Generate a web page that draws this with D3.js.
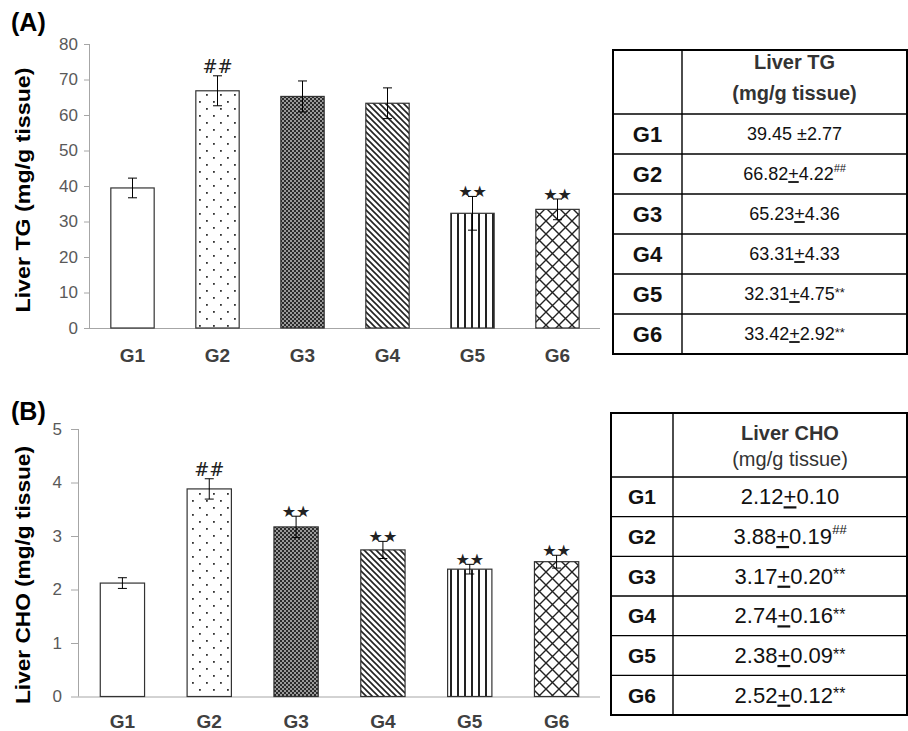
<!DOCTYPE html>
<html><head><meta charset="utf-8">
<script src="https://cdn.jsdelivr.net/npm/d3@7"></script>
<style>body{margin:0;background:#fff}svg{display:block}</style>
</head><body>
<svg id="chart" width="908" height="731"></svg>
<script>
const groups = ["G1","G2","G3","G4","G5","G6"];
const tgMean = [39.45, 66.82, 65.23, 63.31, 32.31, 33.42];
const tgSE   = [2.77, 4.22, 4.36, 4.33, 4.75, 2.92];
const tgMark = ["", "##", "", "", "**", "**"];
const tgTicks = [0,10,20,30,40,50,60,70,80];
const choMean = [2.12, 3.88, 3.17, 2.74, 2.38, 2.52];
const choSE   = [0.10, 0.19, 0.20, 0.16, 0.09, 0.12];
const choMark = ["", "##", "**", "**", "**", "**"];
const choTicks = [0,1,2,3,4,5];
const tgSign = ["±","u","u","u","u","u"];   // "u" = underlined plus
const choSign = ["u","u","u","u","u","u"];
const patterns = ["none","dots","checker","diag","vert","cross"];

const svg = d3.select("#chart");
const defs = svg.append("defs");
// dots
let p = defs.append("pattern").attr("id","dots").attr("patternUnits","userSpaceOnUse").attr("width",14).attr("height",14);
p.append("rect").attr("width",14).attr("height",14).attr("fill","#fff");
p.append("rect").attr("x",3).attr("y",3).attr("width",1.8).attr("height",1.8).attr("fill","#333");
p.append("rect").attr("x",10).attr("y",10).attr("width",1.8).attr("height",1.8).attr("fill","#333");
// checker
p = defs.append("pattern").attr("id","checker").attr("patternUnits","userSpaceOnUse").attr("width",4).attr("height",4);
p.append("rect").attr("width",4).attr("height",4).attr("fill","#9a9a9a");
p.append("rect").attr("width",2).attr("height",2).attr("fill","#2a2a2a");
p.append("rect").attr("x",2).attr("y",2).attr("width",2).attr("height",2).attr("fill","#2a2a2a");
// diagonal "\"
p = defs.append("pattern").attr("id","diag").attr("patternUnits","userSpaceOnUse").attr("width",6).attr("height",6);
p.append("rect").attr("width",6).attr("height",6).attr("fill","#fff");
p.append("path").attr("d","M-1,-1 L7,7 M-4,2 L2,8 M4,-2 L8,2").attr("stroke","#222").attr("stroke-width",1.6);
// vertical
p = defs.append("pattern").attr("id","vert").attr("patternUnits","userSpaceOnUse").attr("width",7).attr("height",7);
p.append("rect").attr("width",7).attr("height",7).attr("fill","#fff");
p.append("rect").attr("x",2).attr("width",2).attr("height",7).attr("fill","#222");
// cross hatch
p = defs.append("pattern").attr("id","cross").attr("patternUnits","userSpaceOnUse").attr("width",13).attr("height",13);
p.append("rect").attr("width",13).attr("height",13).attr("fill","#fff");
p.append("path").attr("d","M0,0 L13,13 M13,0 L0,13").attr("stroke","#222").attr("stroke-width",1.4);

function fillFor(i){ return patterns[i]==="none" ? "#fff" : `url(#${patterns[i]})`; }

function drawChart(cfg){
  const {means, ses, marks, ticks, x0, x1, y0, y1, ymax, title, label, titleY, xLabY, ylabCenter, ylabLen, tickSize, tickPad} = cfg;
  const x = d3.scaleBand().domain(groups).range([x0, x1]).paddingInner(0.49).paddingOuter(0.245);
  const y = d3.scaleLinear().domain([0, ymax]).range([y0, y1]);
  const g = svg.append("g");
  // y axis
  const ya = g.append("g").attr("transform",`translate(${x0},0)`)
    .call(d3.axisLeft(y).tickValues(ticks).tickSize(tickSize).tickPadding(tickPad).tickFormat(d3.format("d")));
  ya.select(".domain").attr("stroke","#a6a6a6").attr("d",`M-0.5,${y1}V${y0}`);
  ya.selectAll(".tick line").attr("stroke","#a6a6a6");
  ya.selectAll(".tick text").attr("fill","#595959").style("font","17px 'Liberation Sans', Arial, sans-serif");
  // x axis line
  g.append("line").attr("x1",x0).attr("x2",x1).attr("y1",y0+0.5).attr("y2",y0+0.5).attr("stroke","#a6a6a6");
  // bars
  g.selectAll("rect.bar").data(groups).join("rect").attr("class","bar")
    .attr("x",d=>x(d)).attr("width",x.bandwidth())
    .attr("y",(d,i)=>y(means[i])).attr("height",(d,i)=>y0-y(means[i]))
    .attr("fill",(d,i)=>fillFor(i)).attr("stroke","#333").attr("stroke-width",1.2);
  // error bars
  const eb = g.selectAll("g.eb").data(groups).join("g").attr("class","eb");
  eb.append("line").attr("x1",d=>x(d)+x.bandwidth()/2).attr("x2",d=>x(d)+x.bandwidth()/2)
    .attr("y1",(d,i)=>y(means[i]-ses[i])).attr("y2",(d,i)=>y(means[i]+ses[i])).attr("stroke","#000");
  [-1,1].forEach(s=>{
    eb.append("line").attr("x1",d=>x(d)+x.bandwidth()/2-4.5).attr("x2",d=>x(d)+x.bandwidth()/2+4.5)
      .attr("y1",(d,i)=>y(means[i]+s*ses[i])).attr("y2",(d,i)=>y(means[i]+s*ses[i])).attr("stroke","#000");
  });
  // marks
  groups.forEach((d,i)=>{
    if(!marks[i]) return;
    const top = y(means[i]+ses[i]);
    if(marks[i]==="##"){
      g.append("text").attr("x",x(d)+x.bandwidth()/2).attr("y",top-3).attr("text-anchor","middle")
        .style("font","18px 'DejaVu Serif', serif").attr("fill","#222").text("##");
    } else {
      g.append("text").attr("x",x(d)+x.bandwidth()/2).attr("y",top+1).attr("text-anchor","middle")
        .style("font","16px 'DejaVu Sans', sans-serif").attr("fill","#222").text("★★");
    }
  });
  // x labels
  g.selectAll("text.xl").data(groups).join("text").attr("class","xl")
    .attr("x",d=>x(d)+x.bandwidth()/2).attr("y",xLabY).attr("text-anchor","middle")
    .style("font","bold 19px 'Liberation Sans', Arial, sans-serif").attr("fill","#404040").text(d=>d);
  // y label
  g.append("text").attr("transform",`translate(30,${ylabCenter}) rotate(-90)`).attr("text-anchor","middle")
    .attr("textLength",ylabLen).attr("lengthAdjust","spacingAndGlyphs")
    .style("font","bold 20px 'Liberation Sans', Arial, sans-serif").attr("fill","#000").text(label);
  // panel title
  g.append("text").attr("x",11).attr("y",titleY)
    .style("font","bold 25px 'Liberation Sans', Arial, sans-serif").attr("fill","#000").text(title);
}

drawChart({means:tgMean, ses:tgSE, marks:tgMark, ticks:tgTicks, x0:90, x1:600, y0:328, y1:44, ymax:80,
  title:"(A)", label:"Liver TG (mg/g tissue)", titleY:31, xLabY:362, ylabCenter:190, ylabLen:245, tickSize:6, tickPad:6});
drawChart({means:choMean, ses:choSE, marks:choMark, ticks:choTicks, x0:79, x1:600, y0:696.5, y1:429, ymax:5,
  title:"(B)", label:"Liver CHO (mg/g tissue)", titleY:420, xLabY:728, ylabCenter:575, ylabLen:258, tickSize:8, tickPad:9});

function drawTable(cfg){
  const {means, ses, marks, signs, left, right, top, headBottom, bottom, divider, head1, head2, head2Bold, valFont, labFont, headY1, headY2} = cfg;
  const g = svg.append("g");
  const rowH = (bottom - headBottom) / groups.length;
  const rows = d3.range(groups.length+1).map(i=>headBottom + i*rowH);
  rows.slice(0,-1).forEach(yy=>g.append("line").attr("x1",left).attr("x2",right).attr("y1",yy).attr("y2",yy).attr("stroke","#000").attr("stroke-width",1.4));
  g.append("line").attr("x1",divider).attr("x2",divider).attr("y1",top).attr("y2",bottom).attr("stroke","#000").attr("stroke-width",1.4);
  g.append("rect").attr("x",left).attr("y",top).attr("width",right-left).attr("height",bottom-top)
    .attr("fill","none").attr("stroke","#000").attr("stroke-width",2);
  const cx = (divider+right)/2, lx = (left+divider)/2;
  g.append("text").attr("x",cx).attr("y",headY1).attr("text-anchor","middle")
    .style("font","bold 20px 'Liberation Sans', Arial, sans-serif").attr("fill","#333").text(head1);
  g.append("text").attr("x",cx).attr("y",headY2).attr("text-anchor","middle")
    .style("font",(head2Bold?"bold ":"")+"20px 'Liberation Sans', Arial, sans-serif").attr("fill","#333").text(head2);
  groups.forEach((d,i)=>{
    const mid = rows[i] + rowH/2;
    g.append("text").attr("x",lx).attr("y",mid + labFont*0.36).attr("text-anchor","middle")
      .style("font",`bold ${labFont}px 'Liberation Sans', Arial, sans-serif`).attr("fill","#111").text(d);
    const t = g.append("text").attr("x",cx).attr("y",mid + valFont*0.34).attr("text-anchor","middle")
      .style("font",`${valFont}px 'Liberation Sans', Arial, sans-serif`).attr("fill","#111");
    if(signs[i]==="±"){
      t.append("tspan").text(means[i].toFixed(2)+" ±"+ses[i].toFixed(2));
    } else {
      t.append("tspan").text(means[i].toFixed(2));
      t.append("tspan").attr("text-decoration","underline").text("+");
      t.append("tspan").text(ses[i].toFixed(2));
    }
    if(marks[i]==="##"){
      t.append("tspan").attr("dy",-valFont*0.45).style("font-size",(valFont*0.6)+"px").style("font-style","italic").text("##");
    } else if(marks[i]==="**"){
      t.append("tspan").attr("dy",-valFont*0.15).style("font-size",(valFont*0.72)+"px").text("**");
    }
  });
}

drawTable({means:tgMean, ses:tgSE, marks:tgMark, signs:tgSign, left:613, right:907, top:50, headBottom:114, bottom:354,
  divider:682, head1:"Liver TG", head2:"(mg/g tissue)", head2Bold:true, valFont:18, labFont:22, headY1:69, headY2:100});
drawTable({means:choMean, ses:choSE, marks:choMark, signs:choSign, left:611, right:907, top:413, headBottom:477, bottom:715,
  divider:673, head1:"Liver CHO", head2:"(mg/g tissue)", head2Bold:false, valFont:22, labFont:21, headY1:440, headY2:466});
</script>
</body></html>
